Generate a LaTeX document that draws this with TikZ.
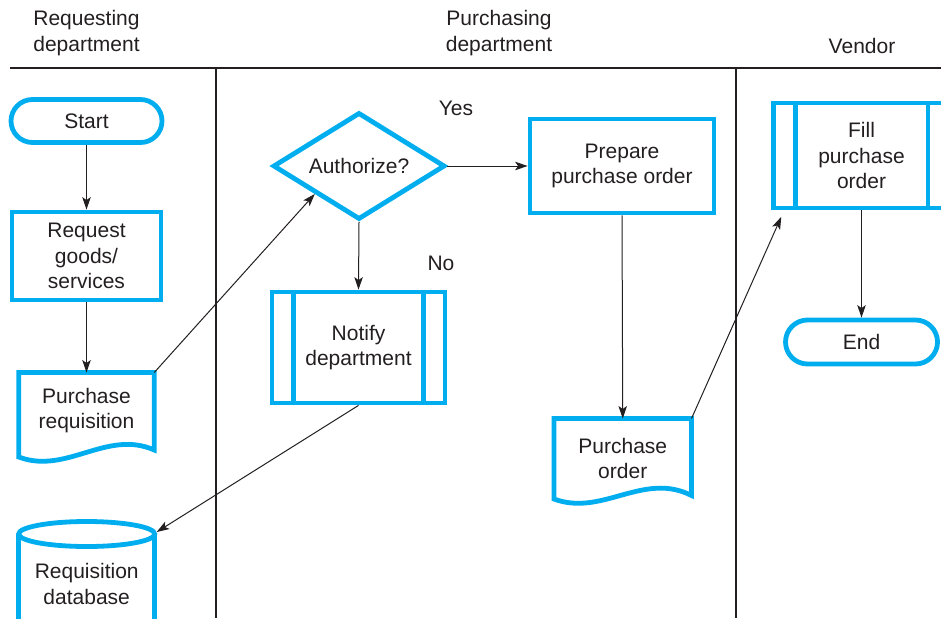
\documentclass[tikz,border=0pt]{standalone}
\usepackage{fontspec}
\setmainfont{Liberation Sans}
\usetikzlibrary{shapes.geometric,shapes.misc,calc,arrows.meta}
\definecolor{flowcyan}{HTML}{00AEEF}
\definecolor{ink}{HTML}{231F20}

% Document symbol outline: #1 node, #2 drop of the left wave end below the box,
% #3 rise of the right wave end above the left one
\newcommand\docoutline[3]{%
  \draw[shapeline]
    (#1.north west) -- ($(#1.south west)+(0,#2)$)
    .. controls ($(#1.south west)!0.35!(#1.south east)+(0,#2+18)$)
       and ($(#1.south west)!0.65!(#1.south east)+(0,#2-28)$)
    .. ($(#1.south east)+(0,#2-#3)$) -- (#1.north east) -- cycle;}

\begin{document}
\begin{tikzpicture}[x=1pt,y=-1pt,
  every node/.style={text=ink, font=\fontsize{21}{25.5}\selectfont,
    align=center, inner sep=0pt},
  shapeline/.style={draw=flowcyan, line width=4.8pt, line join=miter},
  terminal/.style={shapeline, rounded rectangle, minimum width=#1,
    minimum height=43pt},
  process/.style n args={2}{shapeline, rectangle, minimum width=#1,
    minimum height=#2},
  decision/.style={shapeline, diamond, aspect=1.6, minimum width=172pt,
    minimum height=107pt},
  docbox/.style n args={2}{rectangle, minimum width=#1, minimum height=#2,
    outer sep=0pt},
  storebox/.style={rectangle, minimum width=136pt, minimum height=100pt,
    outer sep=2pt},
  arr/.style={draw=ink, line width=1pt,
    -{Stealth[length=12.5pt,width=8.5pt,inset=3pt]}},
  lane/.style={draw=ink, line width=2pt},
]
\useasboundingbox (0,0) rectangle (941,618);
\clip (0,0) rectangle (941,618);

% swimlane headers and dividers
\node (hreq) at (86.5,33) {Requesting\\department};
\node (hpur) at (499,33) {Purchasing\\department};
\node (hven) at (862,46) {Vendor};
\coordinate (headL) at (10,68);
\coordinate (headR) at (941,68);
\coordinate (div1t) at (216,68);
\coordinate (div1b) at (216,618);
\coordinate (div2t) at (736,68);
\coordinate (div2b) at (736,618);
\draw[lane] (headL) -- (headR);
\draw[lane] (div1t) -- (div1b);
\draw[lane] (div2t) -- (div2b);

% requesting department
\node[terminal=151pt] (start) at (86.5,121) {Start};
\node[process={149pt}{88pt}] (req) at (86.5,256) {Request\\goods/\\services};
\node[docbox={135.5pt}{76pt}] (preq) at (86.5,410.5) {Purchase\\requisition};
\docoutline{preq}{8.5}{7}
\node[storebox] (db) at (86.7,584) {Requisition\\database};
\draw[shapeline] (db.west) ++(2,-50) coordinate (dbtl) -- ++(0,120);
\draw[shapeline] (db.east) ++(-2,-50) coordinate (dbtr) -- ++(0,120);
\draw[shapeline] (86.7,534) ellipse [x radius=68, y radius=12.5];

% purchasing department
\node[decision] (auth) at (359,166) {Authorize?};
\node[process={184pt}{94pt}] (prep) at (622,166) {Prepare\\purchase order};
\node[process={173pt}{111pt}] (notify) at (358.5,347.5) {Notify\\department};
\node[docbox={137.5pt}{80pt}] (po) at (622.75,458.5) {Purchase\\order};
\docoutline{po}{0.5}{3.5}
\node (yes) at (456,108) {Yes};
\node (no) at (441,263) {No};

% vendor
\node[process={176pt}{105pt}] (fill) at (861.5,155.5) {Fill\\purchase\\order};
\node[terminal=152pt, minimum height=44pt] (end) at (861.5,342) {End};

% side bars of the predefined-process boxes
\foreach \n in {notify,fill} {
  \draw[shapeline] ($(\n.north west)+(24,2)$) -- ($(\n.south west)+(24,-2)$);
  \draw[shapeline] ($(\n.north east)+(-24,2)$) -- ($(\n.south east)+(-24,-2)$);
}

% flow connectors
\draw[arr] (start.south) -- (req.north);
\draw[arr] (req.south) -- (preq.north);
\draw[arr] (preq.north east) -- (auth.south west);
\draw[arr] (auth.east) -- (prep.west);
\draw[arr] (auth.south) -- (notify.north);
\draw[arr] (notify.south) -- (db.north east);
\draw[arr] (prep.south) -- (po.north);
\draw[arr, shorten >=7pt] (po.north east) -- ($(fill.south west)+(13,0)$);
\draw[arr] (fill.south) -- (end.north);
\end{tikzpicture}
\end{document}
